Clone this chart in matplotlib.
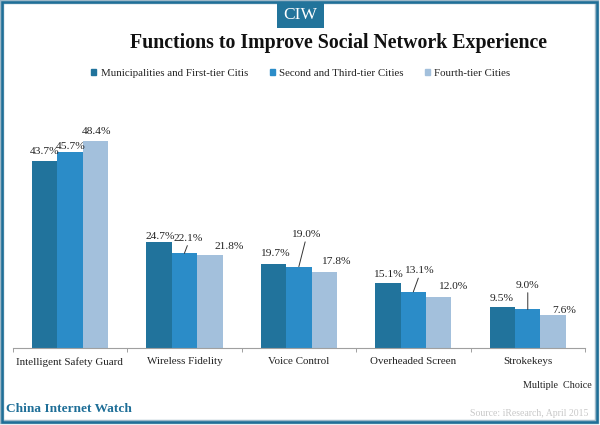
import matplotlib
matplotlib.use('Agg')
import matplotlib.pyplot as plt
from matplotlib.patches import Patch, Rectangle
import numpy as np

categories = ['Intelligent Safety Guard', 'Wireless Fidelity', 'Voice Control',
              'Overheaded Screen', 'Strokekeys']
first_tier = [43.7, 24.7, 19.7, 15.1, 9.5]
second_tier = [45.7, 22.1, 19.0, 13.1, 9.0]
fourth_tier = [48.4, 21.8, 17.8, 12.0, 7.6]
series_names = ['Municipalities and First-tier Citis', 'Second and Third-tier Cities',
                'Fourth-tier Cities']

colors = ['#21739c', '#2b8cc8', '#a3c0dc']
teal = '#1f6f98'
W, H = 600, 425

# label offsets from bar top centre, pixels (x right, y up), one row per series
offsets = [
    [(0, 9), (1, 6), (1, 10), (0, 9), (-1, 9)],
    [(1, 6), (4, 15), (7, 32), (6, 21), (0, 24)],
    [(1, 9), (19, 8), (12, 10), (14, 10), (11, 5)],
]
# labels pulled away from the bar get a leader line
leaders = [(1, 1), (1, 2), (1, 3), (1, 4)]

plt.rcParams['font.family'] = ['Liberation Serif', 'DejaVu Serif']

fig = plt.figure(figsize=(W / 100, H / 100), dpi=100)


def fx(px):
    return px / W


def fy(px):
    return 1 - px / H


# frame of the picture
fig.add_artist(Rectangle((fx(2), fy(422)), fx(595), 420 / H, transform=fig.transFigure,
                         fill=False, edgecolor='#9db8c8', lw=3.2))
fig.add_artist(Rectangle((fx(2), fy(422)), fx(595), 420 / H, transform=fig.transFigure,
                         fill=False, edgecolor=teal, lw=1.8))

# badge on top
fig.add_artist(Rectangle((fx(277), fy(28)), fx(47), 26 / H, transform=fig.transFigure,
                         facecolor='#22749b', edgecolor='none'))
fig.text(fx(300), fy(15), 'CIW', color='white', fontsize=12.5, ha='center', va='center')

fig.text(fx(339), fy(43), 'Functions to Improve Social Network Experience',
         fontsize=14.3, fontweight='bold', color='#111111', ha='center', va='center')

ax = fig.add_axes([fx(12.7), fy(348), fx(572.3), 257 / H])
x = np.arange(len(categories))
width = 0.222
for i, vals in enumerate([first_tier, second_tier, fourth_tier]):
    ax.bar(x + (i - 1) * width, vals, width, color=colors[i], label=series_names[i])
    for j, v in enumerate(vals):
        dx, dy = offsets[i][j]
        arrow = None
        if (i, j) in leaders:
            arrow = dict(arrowstyle='-', color='#333333', lw=0.7, shrinkA=0, shrinkB=0,
                         relpos=(0.5, 0))
        ax.annotate('%.1f%%' % v, (x[j] + (i - 1) * width, v), xytext=(dx, dy),
                    textcoords='offset pixels', ha='center', va='center',
                    fontsize=8.2, color='#222222', arrowprops=arrow)

ax.set_xlim(-0.5, 4.5)
ax.set_ylim(0, 60)
ax.set_yticks([])
ax.set_xticks(np.arange(-0.5, 5, 1))
ax.set_xticklabels([])
ax.set_xticks(x, minor=True)
ax.set_xticklabels(categories, minor=True, fontsize=7.9, color='#222222')
ax.tick_params(axis='x', which='major', length=3, width=0.7, color='#a0a0a0')
ax.tick_params(axis='x', which='minor', length=0, pad=6.5)
for s in ['top', 'left', 'right']:
    ax.spines[s].set_visible(False)
ax.spines['bottom'].set_color('#a0a0a0')
ax.spines['bottom'].set_linewidth(0.8)
ax.patch.set_alpha(0)

handles = [Patch(color=c) for c in colors]
fig.legend(handles, series_names, loc='center', bbox_to_anchor=(fx(301), fy(73)), ncols=3,
           frameon=False, fontsize=7.8, handlelength=0.46, handleheight=0.46,
           handletextpad=0.4, columnspacing=2.0, labelcolor='#222222')

fig.text(fx(592), fy(385), 'Multiple  Choice', fontsize=7.3, color='#222222',
         ha='right', va='center')
fig.text(fx(6), fy(409), 'China Internet Watch', fontsize=9.6, fontweight='bold',
         color=teal, ha='left', va='center')
fig.text(fx(588), fy(413), 'Source: iResearch, April 2015', fontsize=7, color='#c8c8c8',
         ha='right', va='center')

fig.savefig('out.png', dpi=100)
